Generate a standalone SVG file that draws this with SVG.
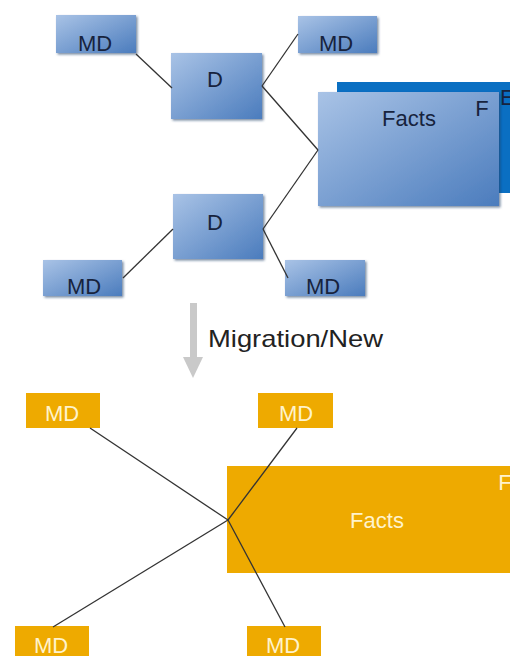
<svg xmlns="http://www.w3.org/2000/svg" width="510" height="656" viewBox="0 0 510 656">
<defs>
<linearGradient id="bg" x1="0" y1="0" x2="1" y2="1">
<stop offset="0" stop-color="#a9c3e6"/>
<stop offset="1" stop-color="#4b7cbd"/>
</linearGradient>
<filter id="sh" x="-10%" y="-10%" width="130%" height="130%">
<feDropShadow dx="1.5" dy="1.5" stdDeviation="1" flood-color="#1d3a66" flood-opacity="0.6"/>
</filter>
<style>
.b{fill:url(#bg);filter:url(#sh)}
.bt{font-family:"Liberation Sans",Arial,sans-serif;font-size:22px;fill:#17233d;text-anchor:middle}
.o{fill:#eeaa00}
.ot{font-family:"Liberation Sans",Arial,sans-serif;font-size:22px;fill:#fff3cc;text-anchor:middle}
.ln{stroke:#333;stroke-width:1.3;fill:none}
</style>
</defs>
<rect width="510" height="656" fill="#fff"/>
<g id="factsBack">
<rect x="337" y="82" width="173" height="111" fill="#0a6fc2"/>
<text x="500" y="105" font-family="Liberation Sans,Arial,sans-serif" font-size="22" fill="#17233d">E</text>
</g>
<g id="factsTop">
<rect class="b" x="318" y="92" width="181" height="114"/>
<text class="bt" x="409" y="126" font-size="23">Facts</text>
<text class="bt" x="482" y="116">F</text>
</g>
<g id="mdTopLeft">
<rect class="b" x="56" y="15" width="80" height="38"/>
<text class="bt" x="95" y="51">MD</text>
</g>
<g id="dTop">
<rect class="b" x="171" y="53" width="91" height="66"/>
<text class="bt" x="215" y="87">D</text>
</g>
<g id="mdTopRight">
<rect class="b" x="298" y="16" width="79" height="37"/>
<text class="bt" x="336" y="51">MD</text>
</g>
<g id="dBottom">
<rect class="b" x="173" y="194" width="90" height="65"/>
<text class="bt" x="215" y="230">D</text>
</g>
<g id="mdBottomLeft">
<rect class="b" x="43" y="260" width="79" height="36"/>
<text class="bt" x="84" y="294">MD</text>
</g>
<g id="mdBottomRight">
<rect class="b" x="285" y="260" width="80" height="36"/>
<text class="bt" x="323" y="294">MD</text>
</g>
<g id="migration">
<rect x="190" y="303" width="7" height="57" fill="#c9c9c9"/>
<polygon points="183,357 203,357 193,378" fill="#c9c9c9"/>
<text x="208" y="347" font-family="Liberation Sans,Arial,sans-serif" font-size="24" fill="#222" textLength="175" lengthAdjust="spacingAndGlyphs">Migration/New</text>
</g>
<g id="factsOrange">
<rect class="o" x="227" y="466" width="283" height="107"/>
<text class="ot" x="377" y="528" font-size="24">Facts</text>
<text class="ot" x="505" y="490" text-anchor="start">F</text>
</g>
<g id="mdOrangeTopLeft">
<rect class="o" x="26" y="393" width="74" height="35"/>
<text class="ot" x="62" y="421">MD</text>
</g>
<g id="mdOrangeTopRight">
<rect class="o" x="258" y="393" width="75" height="35"/>
<text class="ot" x="296" y="421">MD</text>
</g>
<g id="mdOrangeBottomLeft">
<rect class="o" x="15" y="626" width="74" height="30"/>
<text class="ot" x="51" y="653">MD</text>
</g>
<g id="mdOrangeBottomRight">
<rect class="o" x="247" y="626" width="74" height="30"/>
<text class="ot" x="283" y="653">MD</text>
</g>
<g id="connectors">
<line class="ln" x1="136" y1="54" x2="172" y2="88"/>
<line class="ln" x1="262" y1="86" x2="298" y2="34"/>
<line class="ln" x1="262" y1="86" x2="318" y2="150"/>
<line class="ln" x1="318" y1="150" x2="263" y2="229"/>
<line class="ln" x1="173" y1="229" x2="123" y2="278"/>
<line class="ln" x1="263" y1="229" x2="288" y2="278"/>
<line class="ln" x1="90" y1="428" x2="228" y2="520"/>
<line class="ln" x1="297" y1="428" x2="228" y2="520"/>
<line class="ln" x1="228" y1="520" x2="53" y2="627"/>
<line class="ln" x1="228" y1="520" x2="285" y2="627"/>
</g>
</svg>
